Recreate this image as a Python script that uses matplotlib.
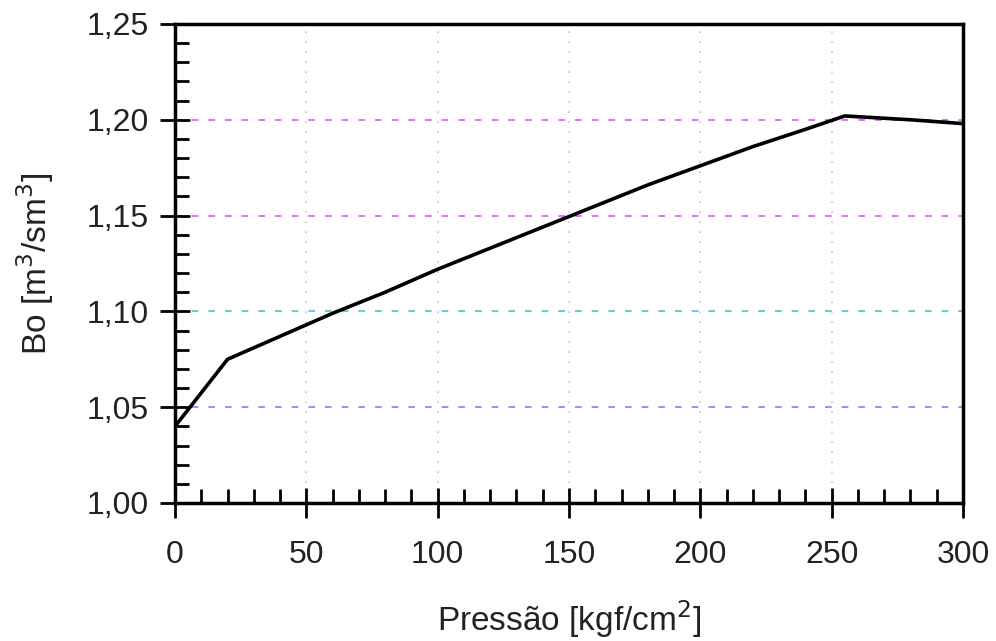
import matplotlib
matplotlib.use('Agg')
import matplotlib.pyplot as plt
from matplotlib.ticker import MultipleLocator, FuncFormatter

plt.rcParams['font.family'] = ['Liberation Sans', 'DejaVu Sans']

# pressure [kgf/cm2] and Bo [m3/sm3]
pressao = [0, 20, 40, 60, 80, 100, 120, 140, 160, 180, 200, 220, 240, 255, 280, 300]
bo = [1.040, 1.075, 1.087, 1.099, 1.110, 1.122, 1.133, 1.144, 1.155, 1.166,
      1.176, 1.186, 1.195, 1.202, 1.200, 1.198]

# grid line colours (scanned look)
hgrid = {1.05: '#6a6aff', 1.10: '#22bbcc', 1.15: '#cc44ee', 1.20: '#cc44ee'}
vgrid = [50, 100, 150, 200, 250]

fig = plt.figure(figsize=(9.96, 6.41), dpi=100)
ax = fig.add_axes([0.1757, 0.2153, 0.7912, 0.7473])

for yv, c in hgrid.items():
    ax.axhline(yv, color=c, lw=1.2, ls=(0, (4, 6)), alpha=0.85, zorder=1)
for xv in vgrid:
    ax.axvline(xv, color='#dd88ee', lw=1.2, ls=(0, (1, 5)), alpha=0.7, zorder=1)

ax.plot(pressao, bo, color='black', lw=2.6, zorder=3)

ax.set_xlim(0, 300)
ax.set_ylim(1.00, 1.25)
ax.xaxis.set_major_locator(MultipleLocator(50))
ax.xaxis.set_minor_locator(MultipleLocator(10))
ax.yaxis.set_major_locator(MultipleLocator(0.05))
ax.yaxis.set_minor_locator(MultipleLocator(0.01))
ax.yaxis.set_major_formatter(FuncFormatter(lambda v, p: ('%.2f' % v).replace('.', ',')))

ax.tick_params(which='major', direction='inout', length=22, width=2, labelsize=23,
               labelcolor='#222222', pad=8)
ax.tick_params(which='minor', direction='in', length=10, width=2)
ax.tick_params(axis='x', which='major', pad=16)
for s in ax.spines.values():
    s.set_linewidth(2.5)

ax.set_xlabel('Pressão [kgf/cm$^2$]', fontsize=24, color='#222222', labelpad=20)
ax.set_ylabel('Bo [m$^3$/sm$^3$]', fontsize=24, color='#222222', labelpad=22)

fig.savefig('out.png', dpi=100)
